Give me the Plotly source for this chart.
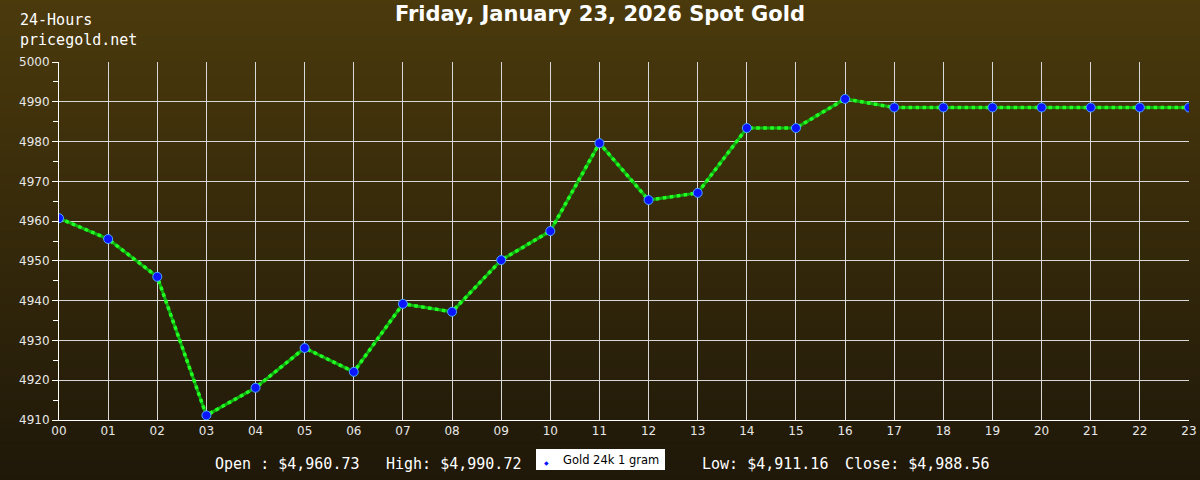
import plotly.graph_objects as go

hours = list(range(24))
hour_labels = [f"{h:02d}" for h in hours]
prices = [4960.73, 4955.5, 4946.0, 4911.16, 4918.1, 4928.1, 4922.1, 4939.2,
          4937.2, 4950.2, 4957.5, 4979.6, 4965.3, 4967.1, 4983.4, 4983.4,
          4990.72, 4988.56, 4988.56, 4988.56, 4988.56, 4988.56, 4988.56, 4988.56]
y_ticks = [4910, 4920, 4930, 4940, 4950, 4960, 4970, 4980, 4990, 5000]
title = "Friday, January 23, 2026 Spot Gold"
series_name = "Gold 24k 1 gram"
stats = ["Open : $4,960.73", "High: $4,990.72", "Low: $4,911.16", "Close: $4,988.56"]

W, H = 1200, 480
ml, mr, mt, mb = 59, 11, 62, 60
pw, ph = W - ml - mr, H - mt - mb


def px(x):
    return (x - ml) / pw


def py(y):
    return 1 - (y - mt) / ph


fig = go.Figure()
fig.add_trace(go.Scatter(
    x=hours, y=prices, mode="lines", showlegend=False, hoverinfo="skip",
    line=dict(color="#10b010", width=3),
))
fig.add_trace(go.Scatter(
    x=hours, y=prices, mode="lines+markers", name=series_name, showlegend=False,
    line=dict(color="#22ff22", width=3.5, dash="dot"),
    marker=dict(color="#0a14ff", size=9, line=dict(color="#4aa8ff", width=1)),
))

# background gradient
top = (75, 58, 12)
bot = (31, 24, 9)
n = 60
x0 = -ml / pw - 0.01
x1 = 1 + mr / pw + 0.01
y_lo = -mb / ph - 0.01
y_hi = 1 + mt / ph + 0.01
shapes = []
for i in range(n):
    t = i / (n - 1)
    c = tuple(int(round(top[k] + (bot[k] - top[k]) * t)) for k in range(3))
    ya = y_hi - (y_hi - y_lo) * i / n
    yb = y_hi - (y_hi - y_lo) * (i + 1) / n
    shapes.append(dict(type="rect", xref="paper", yref="paper", x0=x0, x1=x1,
                       y0=yb - 0.002, y1=ya + 0.002, fillcolor=f"rgb{c}",
                       line=dict(width=0), layer="below"))

# legend box (drawn manually)
shapes.append(dict(type="rect", xref="paper", yref="paper", x0=px(536), x1=px(665),
                   y0=py(470), y1=py(449), fillcolor="white", line=dict(width=0),
                   layer="above"))

annotations = [
    dict(text="24-Hours<br>pricegold.net", xref="paper", yref="paper",
         x=px(18), y=py(9), xanchor="left", yanchor="top",
         align="left", showarrow=False,
         font=dict(family="DejaVu Sans Mono", size=15, color="white")),
    dict(text="◆", xref="paper", yref="paper", x=px(546), y=py(462),
         xanchor="center", yanchor="middle", showarrow=False,
         font=dict(family="DejaVu Sans", size=6, color="#0a14ff")),
    dict(text=series_name, xref="paper", yref="paper", x=px(561), y=py(459.5),
         xanchor="left", yanchor="middle", showarrow=False,
         font=dict(family="DejaVu Sans", size=11.5, color="black")),
]
stat_x = [213, 384, 700, 843]
for sx, st in zip(stat_x, stats):
    annotations.append(dict(text=st, xref="paper", yref="paper",
                            x=px(sx), y=py(464),
                            xanchor="left", yanchor="middle", showarrow=False,
                            font=dict(family="DejaVu Sans Mono", size=15, color="white")))

fig.update_layout(
    width=W, height=H,
    margin=dict(l=ml, r=mr, t=mt, b=mb, autoexpand=False),
    paper_bgcolor="#2e240a", plot_bgcolor="rgba(0,0,0,0)",
    title=dict(text="<b>" + title + "</b>", x=0.5, xanchor="center", y=1 - 14 / H,
               yanchor="middle", font=dict(family="DejaVu Sans", size=21, color="white")),
    shapes=shapes, annotations=annotations,
    showlegend=False,
    xaxis=dict(range=[0, 23], tickvals=hours, ticktext=hour_labels, showgrid=True,
               gridcolor="#d8d8d8", gridwidth=1, showline=True, linecolor="white",
               zeroline=False, ticks="", tickfont=dict(family="DejaVu Sans", size=12, color="#e8e8e8")),
    yaxis=dict(range=[4910, 5000], tickvals=y_ticks, showgrid=True, gridcolor="#d8d8d8",
               gridwidth=1, showline=True, linecolor="white", zeroline=False,
               ticks="outside", ticklen=6, tickcolor="white",
               minor=dict(dtick=5, tick0=4910, ticks="outside", ticklen=5, tickcolor="white", showgrid=False),
               tickfont=dict(family="DejaVu Sans", size=12, color="#e8e8e8")),
    hovermode=False,
)
fig.write_html("out.html", config={"displayModeBar": False},
               post_script="document.body.style.margin='0';document.body.style.padding='0';")
